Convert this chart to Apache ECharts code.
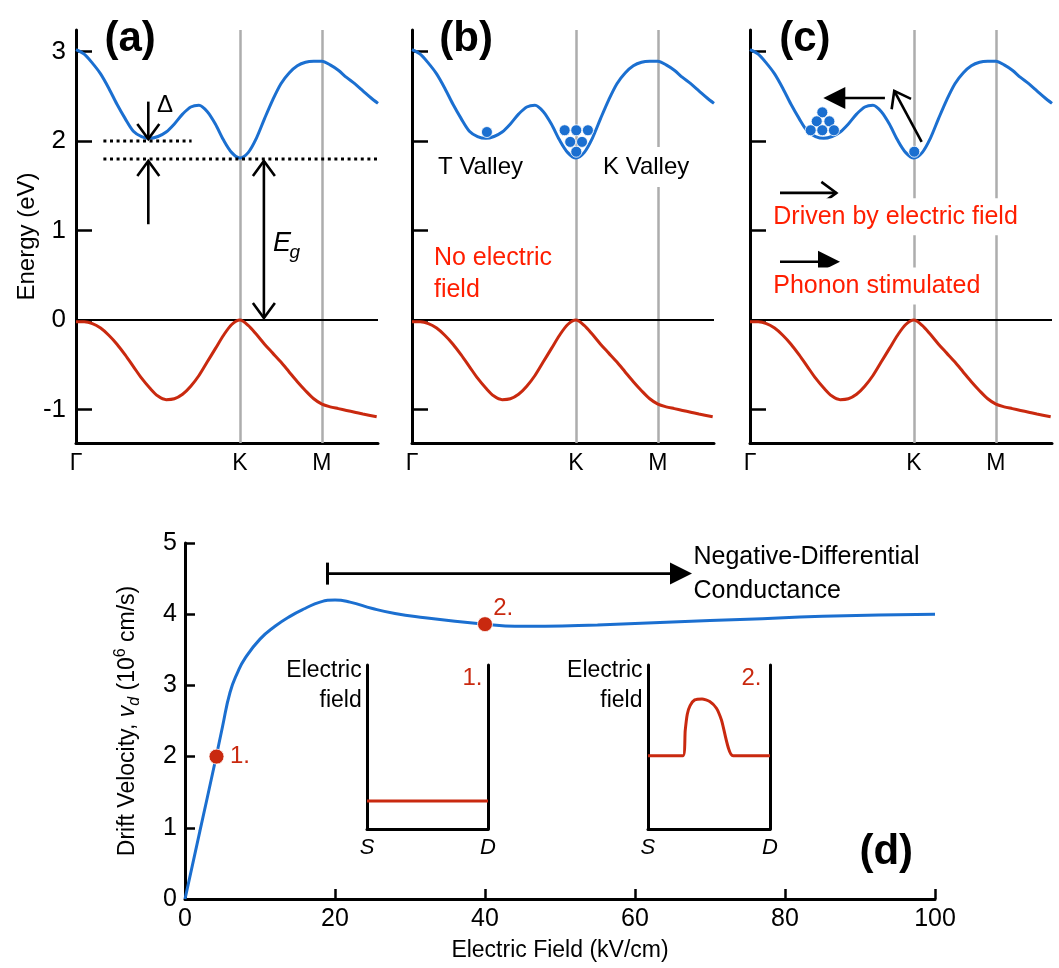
<!DOCTYPE html>
<html><head><meta charset="utf-8">
<script src="https://cdn.jsdelivr.net/npm/echarts@6/dist/echarts.min.js"></script>
<style>html,body{margin:0;padding:0;background:#fff}#c{width:1059px;height:968px}</style>
</head><body><div id="c"></div>
<script>
// ---------- data ----------
const kTickPos = [0, 1, 1.5];
const kTickLabels = ['Γ', 'K', 'M'];
const energyTicks = [-1, 0, 1, 2, 3];
const cbK = [0, 0.05, 0.1, 0.15, 0.2, 0.25, 0.3, 0.35, 0.4, 0.45, 0.5, 0.55, 0.6, 0.65, 0.7, 0.75, 0.8, 0.85, 0.9, 0.95, 1.0,
             1.05, 1.1, 1.15, 1.2, 1.25, 1.3, 1.35, 1.4, 1.45, 1.5, 1.55, 1.6, 1.65, 1.7, 1.75, 1.8, 1.842];
const cbE = [3.02, 2.97, 2.87, 2.75, 2.59, 2.41, 2.25, 2.11, 2.05, 2.03, 2.05, 2.10, 2.19, 2.30, 2.38, 2.40, 2.33, 2.19, 2.01, 1.87, 1.81,
             1.87, 2.03, 2.25, 2.46, 2.64, 2.76, 2.84, 2.88, 2.89, 2.89, 2.85, 2.79, 2.71, 2.64, 2.56, 2.48, 2.42];
const vbK = [0, 0.05, 0.1, 0.15, 0.2, 0.25, 0.3, 0.35, 0.4, 0.45, 0.5, 0.55, 0.6, 0.65, 0.7, 0.75, 0.8, 0.85, 0.9, 0.95, 1.0,
             1.05, 1.1, 1.15, 1.2, 1.25, 1.3, 1.35, 1.4, 1.45, 1.5, 1.55, 1.6, 1.65, 1.7, 1.75, 1.834];
const vbE = [-0.02, -0.02, -0.04, -0.09, -0.17, -0.27, -0.39, -0.52, -0.65, -0.76, -0.85, -0.89, -0.88, -0.83, -0.74, -0.62, -0.47, -0.32, -0.17, -0.05, 0.0,
             -0.06, -0.16, -0.27, -0.37, -0.47, -0.58, -0.69, -0.79, -0.88, -0.94, -0.97, -0.99, -1.01, -1.03, -1.05, -1.08];
const deltaLevels = [2.0, 1.8];
const deltaSpans = [[0.167, 0.705], [0.167, 1.842]];
const electronsB = [[0.457, 2.10], [0.931, 2.12], [1.002, 2.12], [1.073, 2.12], [0.965, 1.99], [1.037, 1.99], [1.002, 1.88]];
const electronsC = [[0.441, 2.32], [0.407, 2.22], [0.484, 2.22], [0.370, 2.12], [0.441, 2.12], [0.512, 2.12], [1.002, 1.88]];
// arrows: x1, y1, x2, y2, kind (1 open head, 2 filled head, 3 open both, 4 cap + filled head)
const arrowsA = [[0.441, 2.44, 0.441, 2.0, 1], [0.441, 1.07, 0.441, 1.8, 1], [1.146, 0.0, 1.146, 1.8, 3]];
const arrowsC = [[1.047, 1.99, 0.874, 2.58, 1], [0.823, 2.48, 0.447, 2.48, 2], [0.183, 1.42, 0.539, 1.42, 1], [0.183, 0.651, 0.549, 0.651, 2]];
const fieldKV = [0, 2, 4, 5, 6, 7, 8, 10, 12, 14, 16, 18, 20, 22, 25, 28, 32, 36, 40, 44, 48, 55, 65, 75, 85, 100];
const driftV = [0, 0.96, 1.92, 2.42, 2.90, 3.18, 3.38, 3.65, 3.83, 3.97, 4.08, 4.17, 4.20, 4.17, 4.08, 4.01, 3.95, 3.90, 3.86, 3.83, 3.83, 3.85, 3.89, 3.93, 3.97, 4.00];
const markedPoints = [[4.2, 2.0], [40, 3.86]];
const ndcArrow = [[19.0, 4.57, 67.6, 4.57, 4]];
const inset1X = [0, 1];
const inset1Y = [0.17, 0.17];
const inset2X = [0, 0.287, 0.305, 0.322, 0.345, 0.383, 0.443, 0.506, 0.561, 0.602, 0.697, 1];
const inset2Y = [0.446, 0.446, 0.60, 0.70, 0.752, 0.787, 0.793, 0.777, 0.736, 0.665, 0.446, 0.446];

// ---------- style ----------
const FONT = 'Liberation Sans, Arial, Helvetica, sans-serif';
const BLUE = '#1b6fd0', RED = '#c9290f', TRED = '#ff1e00';
const K_MAX = 1.842, E_MIN = -1.374, E_MAX = 3.24;
const zip = (a, b) => a.map((v, i) => [v, b[i]]);

function renderArrow(params, api) {
  const p1 = api.coord([api.value(0), api.value(1)]);
  const p2 = api.coord([api.value(2), api.value(3)]);
  const kind = api.value(4);
  const dx = p2[0] - p1[0], dy = p2[1] - p1[1];
  const len = Math.sqrt(dx * dx + dy * dy) || 1;
  const ux = dx / len, uy = dy / len, nx = -uy, ny = ux;
  const lw = 2.6;
  const kids = [];
  let s = [p1[0], p1[1]], e = [p2[0], p2[1]];
  const open = (tip, sx, sy) => {
    const t = [tip[0] - sx * 2, tip[1] - sy * 2];
    kids.push({type: 'polyline', shape: {points: [[t[0] - sx * 15 + nx * 11, t[1] - sy * 15 + ny * 11], t, [t[0] - sx * 15 - nx * 11, t[1] - sy * 15 - ny * 11]]},
      style: {stroke: '#000', lineWidth: lw, fill: null, lineJoin: 'miter'}});
    return t;
  };
  if (kind === 1 || kind === 3) e = open(p2, ux, uy);
  if (kind === 3) s = open(p1, -ux, -uy);
  if (kind === 2 || kind === 4) {
    const L = 22, W = 11;
    kids.push({type: 'polygon', shape: {points: [[p2[0], p2[1]], [p2[0] - ux * L + nx * W, p2[1] - uy * L + ny * W], [p2[0] - ux * L - nx * W, p2[1] - uy * L - ny * W]]},
      style: {fill: '#000'}});
    e = [p2[0] - ux * (L - 3), p2[1] - uy * (L - 3)];
  }
  if (kind === 4) {
    kids.push({type: 'line', shape: {x1: p1[0] + nx * 11, y1: p1[1] + ny * 11, x2: p1[0] - nx * 11, y2: p1[1] - ny * 11}, style: {stroke: '#000', lineWidth: 3}});
  }
  kids.push({type: 'line', shape: {x1: s[0], y1: s[1], x2: e[0], y2: e[1]}, style: {stroke: '#000', lineWidth: lw}});
  return {type: 'group', children: kids};
}
function arrowSeries(xi, yi, data) {
  return {type: 'custom', xAxisIndex: xi, yAxisIndex: yi, renderItem: renderArrow, data: data, z: 5, silent: true, clip: false};
}
function textSeries(xi, yi, items) {
  return {type: 'scatter', xAxisIndex: xi, yAxisIndex: yi, symbolSize: 0, z: 6, silent: true, itemStyle: {opacity: 1},
    data: items.map(t => ({value: [t.x, t.y], name: t.text,
      label: Object.assign({show: true, formatter: '{b}', color: '#000', opacity: 1, fontFamily: FONT, fontSize: 24, position: t.pos || 'inside', distance: 0}, t.style || {})}))};
}
function dotSeries(xi, yi, pts, color, size) {
  return {type: 'scatter', xAxisIndex: xi, yAxisIndex: yi, data: pts, symbolSize: size, z: 4, silent: true,
    itemStyle: {color: color, borderColor: '#fff', borderWidth: 0.8, opacity: 1}};
}
const panelTag = {fontSize: 42, fontWeight: 'bold'};

// ---------- grids & axes ----------
const topLefts = [76, 412, 750];
const grid = topLefts.map(l => ({left: l, top: 30, width: 302, height: 413}));
grid.push({left: 185, top: 543, width: 750, height: 356});
grid.push({left: 367, top: 665, width: 121, height: 164});
grid.push({left: 648, top: 665, width: 122, height: 164});

const blackLine = w => ({onZero: false, lineStyle: {color: '#000', width: w}});
const xAxis = [], yAxis = [];
topLefts.forEach((l, i) => {
  xAxis.push({type: 'value', gridIndex: i, min: 0, max: K_MAX, axisLine: blackLine(3), axisTick: {show: false}, splitLine: {show: false},
    axisLabel: {customValues: kTickPos, showMinLabel: true, formatter: v => kTickLabels[kTickPos.indexOf(v)] || '', fontSize: 23, color: '#000', margin: 9, fontFamily: FONT}});
  yAxis.push({type: 'value', gridIndex: i, min: E_MIN, max: E_MAX, axisLine: blackLine(3),
    axisTick: {inside: true, length: 16, lineStyle: {color: '#000', width: 2.5}, customValues: energyTicks}, splitLine: {show: false},
    axisLabel: {show: i === 0, customValues: energyTicks, fontSize: 26, color: '#000', margin: 10, fontFamily: FONT},
    name: i === 0 ? 'Energy (eV)' : '', nameLocation: 'middle', nameGap: 36, nameTextStyle: {fontSize: 24, color: '#000', fontFamily: FONT}});
});
xAxis.push({type: 'value', gridIndex: 3, min: 0, max: 100, interval: 20, axisLine: blackLine(3),
  axisTick: {inside: true, length: 10, lineStyle: {color: '#000', width: 2.5}}, splitLine: {show: false},
  axisLabel: {fontSize: 25, color: '#000', margin: 8, fontFamily: FONT, showMinLabel: true, showMaxLabel: true},
  name: 'Electric Field (kV/cm)', nameLocation: 'middle', nameGap: 40, nameTextStyle: {fontSize: 23, color: '#000', fontFamily: FONT}});
yAxis.push({type: 'value', gridIndex: 3, min: 0, max: 5, interval: 1, axisLine: blackLine(3),
  axisTick: {inside: true, length: 10, lineStyle: {color: '#000', width: 2.5}}, splitLine: {show: false},
  axisLabel: {fontSize: 25, color: '#000', margin: 8, fontFamily: FONT, showMinLabel: true, showMaxLabel: true},
  name: 'Drift Velocity, {i|v}{sub|d} (10{sup|6} cm/s)', nameLocation: 'middle', nameGap: 42,
  nameTextStyle: {fontSize: 23, lineHeight: 30, color: '#000', fontFamily: FONT,
    rich: {i: {fontSize: 23, fontStyle: 'italic', fontFamily: FONT, color: '#000'},
      sub: {fontSize: 16, fontStyle: 'italic', verticalAlign: 'bottom', fontFamily: FONT, color: '#000'},
      sup: {fontSize: 16, verticalAlign: 'top', fontFamily: FONT, color: '#000'}}}});
[4, 5].forEach(g => {
  xAxis.push({type: 'value', gridIndex: g, min: 0, max: 1, axisLine: blackLine(3), axisTick: {show: false}, axisLabel: {show: false}, splitLine: {show: false}});
});
[4, 5].forEach(g => {
  yAxis.push({type: 'value', gridIndex: g, min: 0, max: 1, axisLine: blackLine(3), axisTick: {show: false}, axisLabel: {show: false}, splitLine: {show: false}});
});
[4, 5].forEach(g => {
  yAxis.push({type: 'value', gridIndex: g, position: 'right', min: 0, max: 1, axisLine: blackLine(3), axisTick: {show: false}, axisLabel: {show: false}, splitLine: {show: false}});
});

// ---------- series ----------
const series = [];
topLefts.forEach((l, i) => {
  series.push({type: 'line', xAxisIndex: i, yAxisIndex: i, data: zip(vbK, vbE), smooth: 0.3, symbol: 'none', z: 3, silent: true,
    lineStyle: {color: RED, width: 3},
    markLine: {z: 1, silent: true, symbol: 'none', animation: false, label: {show: false},
      data: [{xAxis: 1, lineStyle: {color: '#adadad', width: 2.5, type: 'solid'}},
             {xAxis: 1.5, lineStyle: {color: '#adadad', width: 2.5, type: 'solid'}},
             {yAxis: 0, lineStyle: {color: '#000', width: 2, type: 'solid'}}]}});
  series.push({type: 'line', xAxisIndex: i, yAxisIndex: i, data: zip(cbK, cbE), smooth: 0.3, symbol: 'none', z: 3, silent: true,
    lineStyle: {color: BLUE, width: 3}});
});
deltaLevels.forEach((lv, j) => {
  series.push({type: 'line', xAxisIndex: 0, yAxisIndex: 0, data: deltaSpans[j].map(x => [x, lv]), symbol: 'none', z: 4, silent: true,
    lineStyle: {color: '#000', width: 3, type: [3, 3.6]}});
});
series.push(arrowSeries(0, 0, arrowsA));
series.push(textSeries(0, 0, [
  {x: 0.33, y: 3.13, text: '(a)', style: panelTag},
  {x: 0.543, y: 2.40, text: 'Δ', style: {fontSize: 24}},
  {x: 1.256, y: 0.85, text: 'E', style: {fontSize: 27, fontStyle: 'italic'}},
  {x: 1.335, y: 0.75, text: 'g', style: {fontSize: 19, fontStyle: 'italic'}}
]));
series.push(dotSeries(1, 1, electronsB, BLUE, 11));
series.push(textSeries(1, 1, [
  {x: 0.33, y: 3.13, text: '(b)', style: panelTag},
  {x: 0.159, y: 1.71, text: 'T Valley', pos: 'right'},
  {x: 1.165, y: 1.71, text: 'K Valley', pos: 'right', style: {backgroundColor: '#fff', padding: [8, 0]}},
  {x: 0.134, y: 0.51, text: 'No electric\nfield', pos: 'right', style: {color: TRED, fontSize: 25, lineHeight: 32}}
]));
series.push(dotSeries(2, 2, electronsC, BLUE, 11));
series.push(arrowSeries(2, 2, arrowsC));
series.push(textSeries(2, 2, [
  {x: 0.335, y: 3.13, text: '(c)', style: panelTag},
  {x: 0.142, y: 1.154, text: 'Driven by electric field', pos: 'right', style: {color: TRED, fontSize: 25, backgroundColor: '#fff', padding: [6, 0]}},
  {x: 0.142, y: 0.38, text: 'Phonon stimulated', pos: 'right', style: {color: TRED, fontSize: 25, backgroundColor: '#fff', padding: [6, 0]}}
]));
// panel d
series.push({type: 'line', xAxisIndex: 3, yAxisIndex: 3, data: zip(fieldKV, driftV), smooth: 0.5, symbol: 'none', z: 3, silent: true,
  lineStyle: {color: BLUE, width: 3}});
series.push(dotSeries(3, 3, markedPoints, RED, 15));
series.push(arrowSeries(3, 3, ndcArrow));
series.push(textSeries(3, 3, [
  {x: 93.5, y: 0.66, text: '(d)', style: panelTag},
  {x: 6.0, y: 2.0, text: '1.', pos: 'right', style: {color: RED, fontSize: 24}},
  {x: 41.1, y: 4.08, text: '2.', pos: 'right', style: {color: RED, fontSize: 24}},
  {x: 67.8, y: 4.565, text: 'Negative-Differential\nConductance', pos: 'right', style: {fontSize: 25, lineHeight: 34}},
  {x: 23.56, y: 3.0, text: 'Electric\nfield', pos: 'left', style: {fontSize: 23, lineHeight: 30}},
  {x: 61.0, y: 3.0, text: 'Electric\nfield', pos: 'left', style: {fontSize: 23, lineHeight: 30}},
  {x: 24.27, y: 0.72, text: 'S', style: {fontSize: 22, fontStyle: 'italic'}},
  {x: 40.4, y: 0.72, text: 'D', style: {fontSize: 22, fontStyle: 'italic'}},
  {x: 61.7, y: 0.72, text: 'S', style: {fontSize: 22, fontStyle: 'italic'}},
  {x: 78.0, y: 0.72, text: 'D', style: {fontSize: 22, fontStyle: 'italic'}}
]));
// insets
series.push({type: 'line', xAxisIndex: 4, yAxisIndex: 4, data: zip(inset1X, inset1Y), symbol: 'none', z: 3, silent: true, lineStyle: {color: RED, width: 3}});
series.push({type: 'line', xAxisIndex: 5, yAxisIndex: 5, data: zip(inset2X, inset2Y), smooth: 0.2, symbol: 'none', z: 3, silent: true, lineStyle: {color: RED, width: 3, join: 'round'}});
series.push(textSeries(4, 4, [{x: 0.872, y: 0.92, text: '1.', style: {color: RED, fontSize: 24}}]));
series.push(textSeries(5, 5, [{x: 0.848, y: 0.92, text: '2.', style: {color: RED, fontSize: 24}}]));

const chart = echarts.init(document.getElementById('c'), null, {renderer: 'canvas'});
chart.setOption({
  animation: false,
  backgroundColor: '#fff',
  textStyle: {fontFamily: FONT},
  grid: grid, xAxis: xAxis, yAxis: yAxis, series: series
});
</script></body></html>
